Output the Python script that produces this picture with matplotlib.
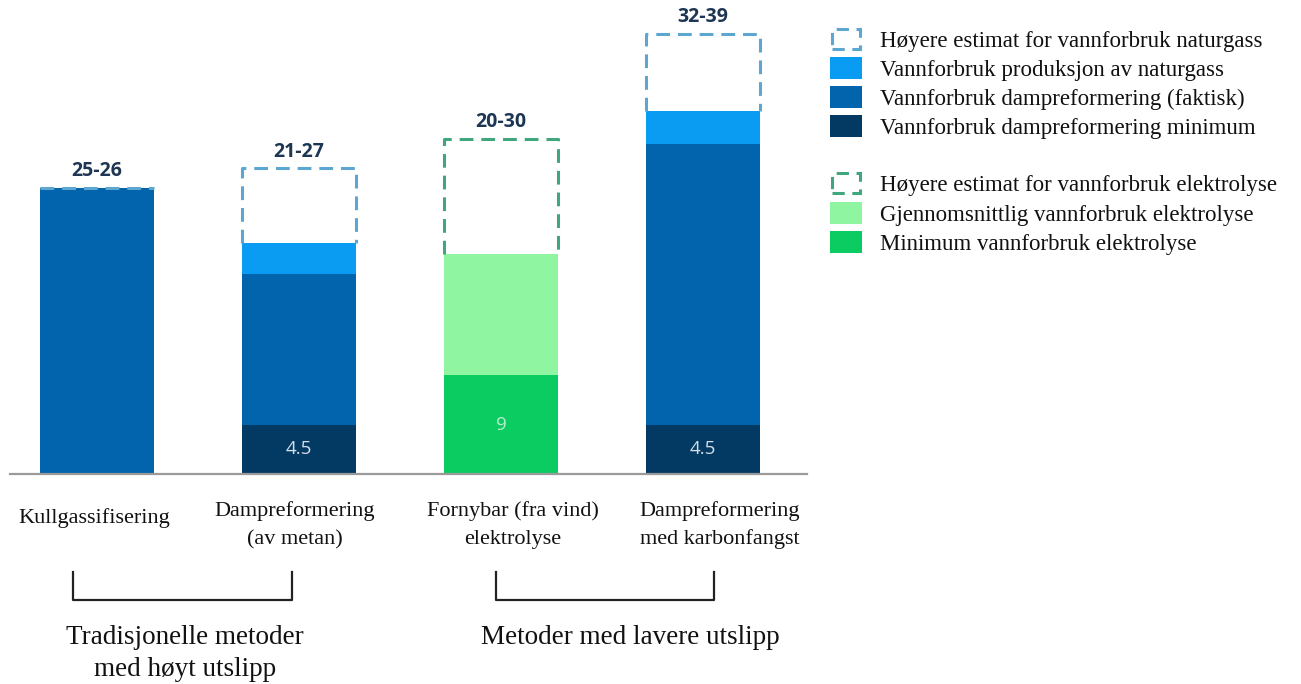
import matplotlib
matplotlib.use("Agg")
import matplotlib.pyplot as plt
from matplotlib.patches import Rectangle

# ---- data -------------------------------------------------------------
categories = ["Kullgassifisering",
              "Dampreformering\n(av metan)",
              "Fornybar (fra vind)\nelektrolyse",
              "Dampreformering\nmed karbonfangst"]
range_labels = ["25-26", "21-27", "20-30", "32-39"]

smr_minimum = [0, 4.5, 0, 4.5]        # Vannforbruk dampreformering minimum
smr_actual = [26.0, 13.7, 0, 25.5]    # Vannforbruk dampreformering (faktisk)
gas_production = [0, 2.8, 0, 3.0]     # Vannforbruk produksjon av naturgass
gas_high = [0, 6.8, 0, 7.0]           # Høyere estimat for vannforbruk naturgass
el_minimum = [0, 0, 9.0, 0]           # Minimum vannforbruk elektrolyse
el_average = [0, 0, 11.0, 0]          # Gjennomsnittlig vannforbruk elektrolyse
el_high = [0, 0, 10.5, 0]             # Høyere estimat for vannforbruk elektrolyse

inner_labels = ["", "4.5", "9", "4.5"]

group_labels = ["Tradisjonelle metoder\nmed høyt utslipp",
                "Metoder med lavere utslipp"]

legend_labels = ["Høyere estimat for vannforbruk naturgass",
                 "Vannforbruk produksjon av naturgass",
                 "Vannforbruk dampreformering (faktisk)",
                 "Vannforbruk dampreformering minimum",
                 "Høyere estimat for vannforbruk elektrolyse",
                 "Gjennomsnittlig vannforbruk elektrolyse",
                 "Minimum vannforbruk elektrolyse"]

# ---- styling ----------------------------------------------------------
C_DARK = "#033a63"
C_MID = "#0264ad"
C_LIGHT = "#0a9bf2"
C_GAS_DASH = "#5ba7d1"
C_EL_DARK = "#0bcc60"
C_EL_LIGHT = "#8ff5a1"
C_EL_DASH = "#3fa67e"
LABEL_COLOR = "#1d3653"
TEXT_COLOR = "#111111"

W, H = 1301, 684
fig = plt.figure(figsize=(W / 100, H / 100), dpi=100)

base_px = 474
ax = fig.add_axes([10 / W, (H - base_px) / H, 797 / W, base_px / H])
ax.set_ylim(0, base_px / 11.0)
ax.set_xlim(-87 / 202, (807 - 97) / 202)

x = list(range(len(categories)))
width = 0.565


def stack(series_list, colors):
    bottom = [0.0] * len(x)
    for vals, col in zip(series_list, colors):
        ax.bar(x, vals, width, bottom=bottom, color=col, linewidth=0)
        bottom = [b + v for b, v in zip(bottom, vals)]
    return bottom


tops = stack([smr_minimum, smr_actual, gas_production, el_minimum, el_average],
             [C_DARK, C_MID, C_LIGHT, C_EL_DARK, C_EL_LIGHT])


def dashed_box(xc, y0, h, color):
    xl, xr = xc - width / 2, xc + width / 2
    ax.plot([xl, xl, xr, xr], [y0, y0 + h, y0 + h, y0], color=color,
            lw=2.2, dashes=(4.5, 2.6), solid_capstyle="butt",
            dash_capstyle="butt", clip_on=False)


label_tops = []
for i in x:
    if el_high[i] > 0:
        dashed_box(i, tops[i], el_high[i], C_EL_DASH)
        label_tops.append(tops[i] + el_high[i])
    else:
        dashed_box(i, tops[i], gas_high[i], C_GAS_DASH)
        label_tops.append(tops[i] + gas_high[i])

for i in x:
    ax.text(i, label_tops[i] + 0.6, range_labels[i], ha="center", va="bottom",
            fontsize=14, fontweight="bold", color=LABEL_COLOR,
            family="Open Sans")
    if inner_labels[i]:
        seg = smr_minimum[i] if smr_minimum[i] > 0 else el_minimum[i]
        ax.text(i, seg / 2, inner_labels[i], ha="center", va="center",
                fontsize=13.5, color="#d5dde6" if smr_minimum[i] else "#b8f0cc",
                family="Open Sans")

for s in ["top", "left", "right"]:
    ax.spines[s].set_visible(False)
ax.spines["bottom"].set_color("#9a9a9a")
ax.spines["bottom"].set_linewidth(1.6)
ax.set_xticks([])
ax.set_yticks([])


def fx(px):
    return px / W


def fy(py):
    return 1 - py / H


SERIF = "Liberation Serif"

# category names under the bars, one text per line
cat_centers = [94, 295, 513, 720]
for cx, name in zip(cat_centers, categories):
    lines = name.split("\n")
    rows = [516] if len(lines) == 1 else [509, 537]
    for ly, line in zip(rows, lines):
        fig.text(fx(cx), fy(ly), line, ha="center", va="center_baseline",
                 fontsize=16, family=SERIF, color=TEXT_COLOR)

# group brackets
brackets = [(73, 292), (496, 714)]
for (l, r) in brackets:
    fig.add_artist(plt.Line2D([fx(l), fx(l), fx(r), fx(r)],
                              [fy(572), fy(600), fy(600), fy(572)],
                              color="#222222", lw=1.6))
group_centers = [185, 630]
for gx, g in zip(group_centers, group_labels):
    for k, line in enumerate(g.split("\n")):
        fig.text(fx(gx), fy(634 + 32 * k), line, ha="center",
                 va="center_baseline", fontsize=19.5, family=SERIF,
                 color=TEXT_COLOR)

# legend
legend_rows = [39, 68, 97, 126, 183, 213, 242]
legend_styles = [("dash", C_GAS_DASH), ("fill", C_LIGHT), ("fill", C_MID),
                 ("fill", C_DARK), ("dash", C_EL_DASH), ("fill", C_EL_LIGHT),
                 ("fill", C_EL_DARK)]
for ry, (kind, col), lab in zip(legend_rows, legend_styles, legend_labels):
    if kind == "fill":
        fig.add_artist(Rectangle((fx(830), fy(ry + 11)), 32 / W, 22 / H,
                                 facecolor=col, edgecolor="none",
                                 transform=fig.transFigure))
    else:
        fig.add_artist(Rectangle((fx(832), fy(ry + 10)), 28 / W, 20 / H,
                                 facecolor="none", edgecolor=col, lw=2.2,
                                 linestyle=(0, (4, 2.5)),
                                 transform=fig.transFigure))
    fig.text(fx(880), fy(ry), lab, ha="left", va="center_baseline",
             fontsize=16.5, family=SERIF, color=TEXT_COLOR)

fig.savefig("out.png", dpi=100, facecolor="white")
